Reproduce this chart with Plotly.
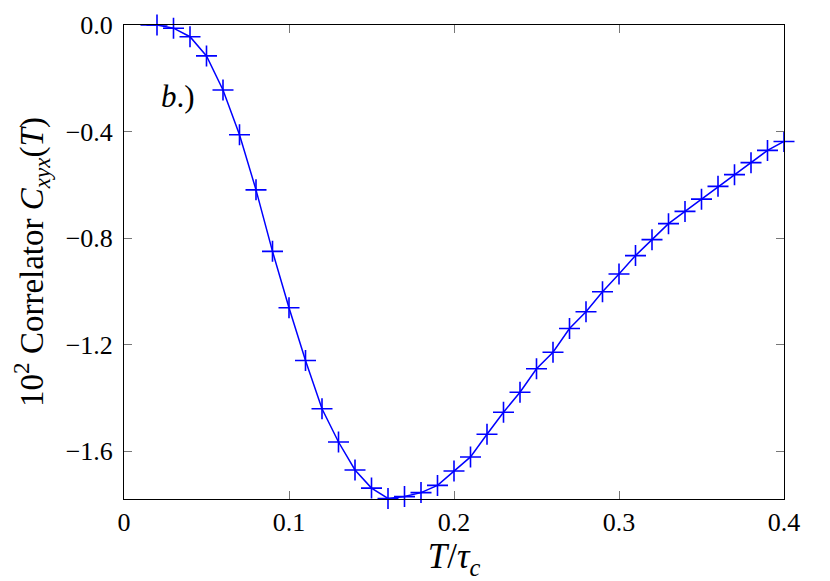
import plotly.graph_objects as go

# T / tau_c sample points (line starts at 0.01, crosses drawn from 0.02)
t_line = [0.01, 0.02, 0.03, 0.04, 0.05, 0.06, 0.07, 0.08, 0.09, 0.10,
          0.11, 0.12, 0.13, 0.14, 0.15, 0.16, 0.17, 0.18, 0.19, 0.20,
          0.21, 0.22, 0.23, 0.24, 0.25, 0.26, 0.27, 0.28, 0.29, 0.30,
          0.31, 0.32, 0.33, 0.34, 0.35, 0.36, 0.37, 0.38, 0.39, 0.40]
corr = [0.0, 0.0, -0.012, -0.044, -0.116, -0.244, -0.412, -0.619, -0.850, -1.062,
        -1.260, -1.441, -1.566, -1.671, -1.739, -1.778, -1.771, -1.756, -1.729, -1.675,
        -1.622, -1.537, -1.454, -1.379, -1.291, -1.229, -1.140, -1.077, -1.002, -0.935,
        -0.866, -0.806, -0.746, -0.700, -0.654, -0.606, -0.562, -0.517, -0.471, -0.4375]

x_ticks = [0, 0.1, 0.2, 0.3, 0.4]
x_labels = ["0", "0.1", "0.2", "0.3", "0.4"]
y_ticks = [0.0, -0.4, -0.8, -1.2, -1.6]
y_labels = ["0.0", "−0.4", "−0.8", "−1.2", "−1.6"]

BLUE = "rgb(0,0,255)"
FONT = "Liberation Serif"

fig = go.Figure()
fig.add_trace(go.Scatter(x=t_line, y=corr, mode="lines",
                         line=dict(color=BLUE, width=1.5),
                         showlegend=False, cliponaxis=False))
fig.add_trace(go.Scatter(x=t_line[1:], y=corr[1:], mode="markers",
                         marker=dict(symbol="cross-thin-open", size=15, color=BLUE,
                                     line=dict(color=BLUE, width=1.6)),
                         showlegend=False, cliponaxis=False))

fig.add_annotation(x=0.033, y=-0.27, text="<i>b</i>.)", showarrow=False,
                   font=dict(family=FONT, size=31, color="black"))

axis_common = dict(showgrid=False, zeroline=False, showline=True,
                   linecolor="black", linewidth=1, mirror="ticks",
                   ticks="inside", ticklen=8, tickcolor="#777777",
                   automargin=False,
                   tickfont=dict(family=FONT, size=26, color="black"))

fig.update_xaxes(range=[0, 0.4], tickvals=x_ticks, ticktext=x_labels,
                 title=dict(text="<i>T</i>/<i>τ</i><sub><i>c</i></sub>",
                            font=dict(family=FONT, size=35, color="black"),
                            standoff=2),
                 **axis_common)
fig.update_yaxes(range=[-1.78, 0], tickvals=y_ticks, ticktext=y_labels,
                 ticklabelstandoff=5,
                 title=dict(text="10<sup>2</sup> Correlator <i>C</i><sub><i>xyx</i></sub>(<i>T</i>)",
                            font=dict(family=FONT, size=33, color="black"),
                            standoff=30),
                 **axis_common)

# the page body adds an 8px offset, so the figure is a bit smaller than the window
fig.update_layout(width=822, height=573, plot_bgcolor="white", paper_bgcolor="white",
                  font=dict(family=FONT, color="black"),
                  margin=dict(l=116, r=46, t=17, b=82))

fig.write_html("out.html")
